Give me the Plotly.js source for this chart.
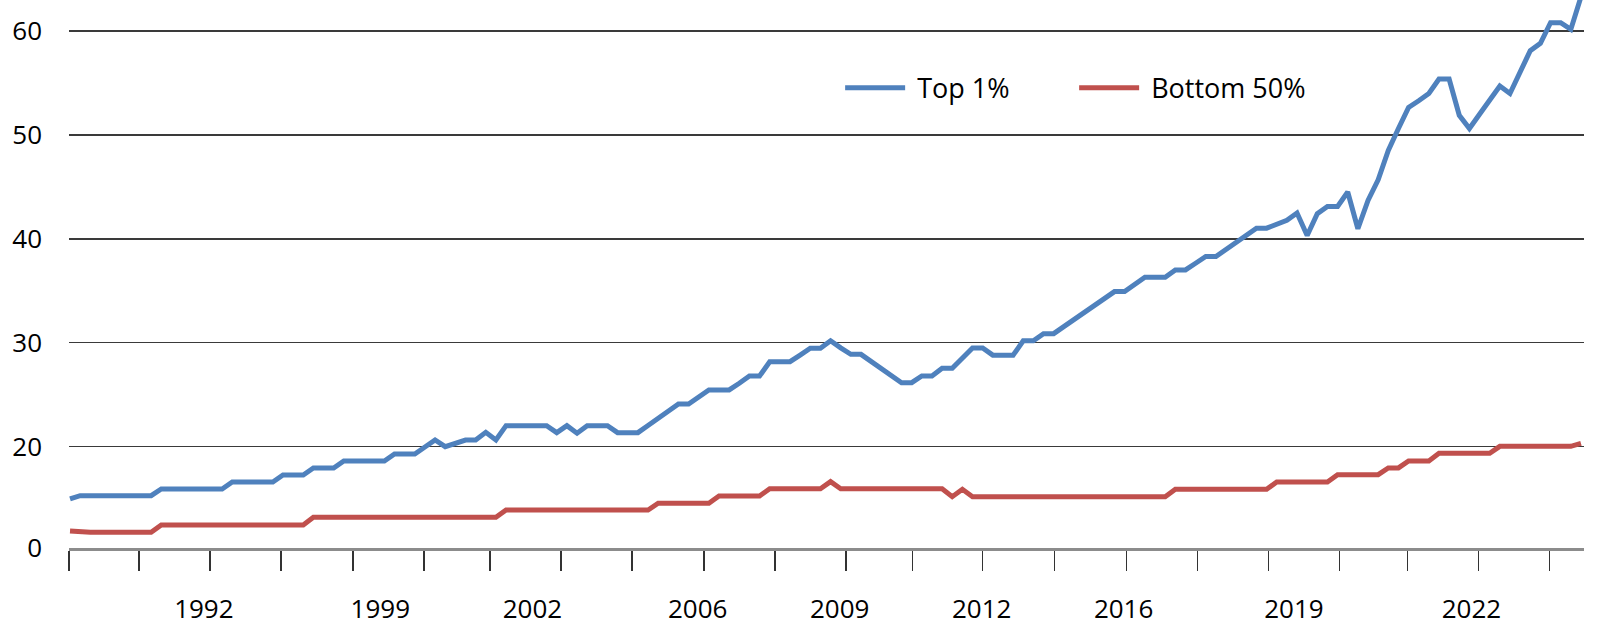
<!DOCTYPE html>
<html>
<head>
<meta charset="utf-8">
<script src="https://cdn.plot.ly/plotly-3.0.1.min.js"></script>
<style>
  html, body { margin: 0; padding: 0; background: #fff; }
  #chart { width: 1600px; height: 640px; }
</style>
</head>
<body>
<div id="chart"></div>
<script>
// series values, one per period
const top1 = [
  14.95,
  15.27, 15.27, 15.27, 15.27, 15.27, 15.27, 15.27, 15.27,
  15.91, 15.91, 15.91, 15.91, 15.91, 15.91, 15.91,
  16.59, 16.59, 16.59, 16.59, 16.59,
  17.26, 17.26, 17.26,
  17.93, 17.93, 17.93,
  18.61, 18.61, 18.61, 18.61, 18.61,
  19.28, 19.28, 19.28,
  19.95, 20.63, 19.99, 20.3, 20.63, 20.63, 21.37, 20.63,
  22.01, 22.01, 22.01, 22.01, 22.01,
  21.34, 22.01, 21.28,
  22.01, 22.01, 22.01,
  21.34, 21.34, 21.34,
  22.03, 22.72, 23.41, 24.1, 24.1, 24.77,
  25.45, 25.45, 25.45,
  26.09, 26.79, 26.79,
  28.17, 28.17, 28.17,
  28.8, 29.46, 29.46, 30.19, 29.5, 28.88, 28.88, 28.2, 27.52, 26.84,
  26.15, 26.15, 26.79, 26.79, 27.53, 27.53, 28.5, 29.49, 29.49,
  28.8, 28.8, 28.8,
  30.18, 30.18, 30.87, 30.87,
  31.55, 32.2, 32.9, 33.55, 34.2,
  34.92, 34.92, 35.65, 36.3, 36.3, 36.3, 37.01, 37.01, 37.65, 38.3, 38.3,
  38.97, 39.64, 40.31, 41.03, 41.03,
  41.4, 41.78, 42.48, 40.32, 42.42, 43.12, 43.12,
  44.51, 40.97, 43.7, 45.69, 48.52, 50.62, 52.65, 53.3, 54.0, 55.39, 55.39,
  51.9, 50.62, 52.0, 53.4, 54.72, 54.0, 56.1, 58.12, 58.83, 60.82, 60.82, 60.17, 63.3
];

const bottom50 = [
  11.87,
  11.75, 11.75, 11.75, 11.75, 11.75, 11.75, 11.75, 11.75,
  12.45, 12.45, 12.45, 12.45, 12.45, 12.45, 12.45, 12.45, 12.45, 12.45, 12.45, 12.45, 12.45, 12.45, 12.45,
  13.19, 13.19, 13.19, 13.19, 13.19, 13.19, 13.19, 13.19, 13.19, 13.19,
  13.19, 13.19, 13.19, 13.19, 13.19, 13.19, 13.19, 13.19, 13.19,
  13.89, 13.89, 13.89, 13.89, 13.89, 13.89, 13.89, 13.89, 13.89, 13.89, 13.89, 13.89, 13.89, 13.89, 13.89,
  14.54, 14.54, 14.54, 14.54, 14.54, 14.54,
  15.24, 15.24, 15.24, 15.24, 15.24,
  15.94, 15.94, 15.94, 15.94, 15.94, 15.94,
  16.62,
  15.94, 15.94, 15.94, 15.94, 15.94, 15.94, 15.94, 15.94, 15.94, 15.94, 15.94,
  15.17, 15.88,
  15.17, 15.17, 15.17, 15.17, 15.17, 15.17, 15.17, 15.17, 15.17, 15.17,
  15.17, 15.17, 15.17, 15.17, 15.17, 15.17, 15.17, 15.17, 15.17, 15.17,
  15.88, 15.88, 15.88, 15.88, 15.88, 15.88, 15.88, 15.88, 15.88, 15.88,
  16.59, 16.59, 16.59, 16.59, 16.59, 16.59,
  17.29, 17.29, 17.29, 17.29, 17.29,
  17.94, 17.94,
  18.61, 18.61, 18.61,
  19.35, 19.35, 19.35, 19.35, 19.35, 19.35,
  20.02, 20.02, 20.02, 20.02, 20.02, 20.02, 20.02, 20.02,
  20.31
];

// x axis: year labels and tick marks, in period units
const yearLabels = ['1992', '1999', '2002', '2006', '2009', '2012', '2016', '2019', '2022'];
const yearPos = [13.2, 30.6, 45.6, 61.9, 75.9, 89.9, 103.9, 120.7, 138.2];
const tickMarks = [-0.1, 6.8, 13.8, 20.8, 27.9, 34.9, 41.4, 48.4, 55.4, 62.5, 69.5,
  76.5, 83.1, 90.0, 97.1, 104.2, 111.2, 118.2, 125.2, 131.9, 138.9, 145.9];

// y axis: the bottom line is labelled 0
const yTickVals = [10.25, 20, 30, 40, 50, 60];
const yTickText = ['0', '20', '30', '40', '50', '60'];

function periods(series) {
    return series.map(function (v, i) { return i; });
}

function graph() {
    // the nbsp keeps a small gap between legend line and text
    var trace1 = {
        x: periods(top1),
        y: top1,
        type: 'scatter',
        mode: 'lines',
        name: '\u00a0Top 1%',
        line: { color: '#4F81BD', width: 5 }
    };

    var trace2 = {
        x: periods(bottom50),
        y: bottom50,
        type: 'scatter',
        mode: 'lines',
        name: '\u00a0Bottom 50%',
        line: { color: '#C0504D', width: 5 }
    };

    var layout = {
        width: 1600,
        height: 640,
        margin: { l: 69, r: 16, t: 0, b: 92 },
        paper_bgcolor: '#ffffff',
        plot_bgcolor: '#ffffff',
        font: { family: '"Open Sans", sans-serif', size: 26, color: '#000000' },
        showlegend: true,
        legend: {
            orientation: 'h',
            x: 0.509,
            xanchor: 'left',
            y: 0.839,
            yanchor: 'middle',
            font: { size: 27 },
            itemwidth: 60,
            entrywidth: 159,
            bgcolor: 'rgba(0,0,0,0)'
        },
        xaxis: {
            range: [-0.1, 149.3],
            tickmode: 'array',
            tickvals: yearPos,
            ticktext: yearLabels,
            ticks: '',
            ticklabelstandoff: 36,
            showgrid: false,
            zeroline: false,
            showline: true,
            linecolor: '#8c8c8c',
            linewidth: 3,
            automargin: false,
            minor: {
                tickmode: 'array',
                tickvals: tickMarks,
                ticks: 'outside',
                ticklen: 20,
                tickwidth: 1.5,
                tickcolor: '#333333',
                showgrid: false
            }
        },
        yaxis: {
            range: [10.23, 63.0],
            tickmode: 'array',
            tickvals: yTickVals,
            ticktext: yTickText,
            ticks: '',
            ticklabelstandoff: 26,
            showgrid: true,
            gridcolor: '#3a3a3a',
            gridwidth: 1.4,
            zeroline: false,
            showline: false,
            automargin: false
        }
    };

    Plotly.newPlot('chart', [trace1, trace2], layout, { staticPlot: true });
}

graph();
</script>
</body>
</html>
